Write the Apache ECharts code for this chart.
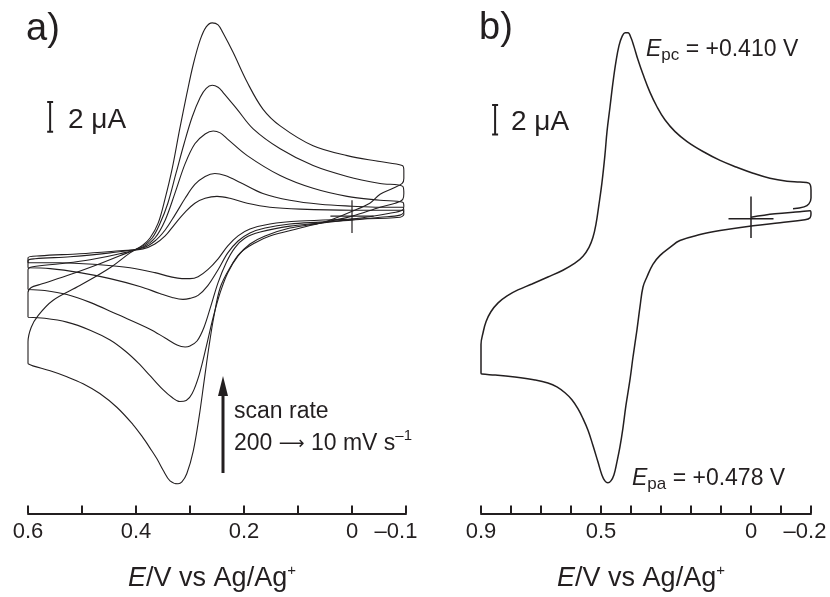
<!DOCTYPE html>
<html><head><meta charset="utf-8">
<script src="https://cdn.jsdelivr.net/npm/echarts/dist/echarts.min.js"></script>
<style>html,body{margin:0;padding:0;background:#fff}#c{width:830px;height:597px}</style>
</head><body><div id="c"></div>
<script>
// ---------- data (E in V vs Ag/Ag+, I in µA, cathodic up) ----------
const ticksA = [0.6, 0.4, 0.2, 0, -0.1];
const tickTextA = ['0.6', '0.4', '0.2', '0', '–0.1'];
const ticksB = [0.9, 0.5, 0, -0.2];
const tickTextB = ['0.9', '0.5', '0', '–0.2'];
const scanRates = [200, 100, 50, 20, 10];

const cv200 = [[0.6,-9.93],[0.6,-8.47],[0.594,-7.47],[0.581,-6.67],[0.554,-5.67],[0.504,-4.67],[0.448,-3.47],[0.411,-2.47],[0.387,-1.93],[0.374,-1.47],[0.359,-0.47],[0.346,1.2],[0.333,3.2],[0.319,5.87],[0.306,8.2],[0.294,10.2],[0.281,11.87],[0.27,12.73],[0.259,13.0],[0.248,12.87],[0.239,12.33],[0.22,11.0],[0.194,9.0],[0.165,7.2],[0.133,6.07],[0.072,4.73],[0.009,4.07],[-0.052,3.67],[-0.093,3.4],[-0.096,3.07],[-0.096,2.53],[-0.093,2.2],[-0.076,1.87],[-0.052,1.47],[-0.033,0.87],[0,0.33],[0.041,-0.27],[0.096,-0.8],[0.152,-1.33],[0.18,-1.8],[0.207,-2.47],[0.226,-3.47],[0.244,-4.8],[0.256,-6.8],[0.265,-8.8],[0.274,-11.13],[0.283,-13.47],[0.294,-15.8],[0.306,-17.33],[0.315,-17.87],[0.322,-18.0],[0.337,-17.8],[0.35,-17.07],[0.361,-16.33],[0.374,-15.6],[0.389,-14.8],[0.406,-14.0],[0.435,-12.87],[0.467,-11.93],[0.498,-11.27],[0.528,-10.8],[0.559,-10.4],[0.591,-10.07],[0.6,-9.93]];
const cv100 = [[0.6,-6.8],[0.6,-5.13],[0.594,-4.8],[0.578,-4.6],[0.522,-3.93],[0.467,-3.2],[0.43,-2.67],[0.387,-2.0],[0.37,-1.47],[0.356,-0.53],[0.341,0.87],[0.326,2.87],[0.311,4.87],[0.296,6.67],[0.281,8.0],[0.27,8.6],[0.259,8.8],[0.248,8.67],[0.239,8.33],[0.213,7.2],[0.183,5.87],[0.133,4.53],[0.072,3.4],[0.009,2.67],[-0.052,2.2],[-0.094,2.0],[-0.096,1.53],[-0.094,1.13],[-0.08,0.87],[-0.052,0.6],[0,0],[0.059,-0.47],[0.115,-0.8],[0.161,-1.33],[0.189,-1.87],[0.211,-2.67],[0.23,-3.8],[0.244,-5.13],[0.257,-6.8],[0.27,-8.8],[0.283,-10.67],[0.296,-11.93],[0.307,-12.4],[0.319,-12.47],[0.333,-12.2],[0.35,-11.67],[0.374,-10.73],[0.396,-9.87],[0.42,-9.07],[0.448,-8.33],[0.485,-7.67],[0.528,-7.13],[0.569,-6.87],[0.6,-6.8]];
const cv50 = [[0.6,-4.93],[0.6,-3.6],[0.591,-3.4],[0.541,-3.2],[0.485,-2.93],[0.43,-2.53],[0.387,-2.07],[0.365,-1.47],[0.346,-0.27],[0.328,1.53],[0.309,3.53],[0.291,4.87],[0.272,5.53],[0.257,5.73],[0.244,5.6],[0.231,5.2],[0.194,4.07],[0.133,2.73],[0.072,1.87],[0.009,1.33],[-0.052,1.07],[-0.094,0.93],[-0.096,0.67],[-0.093,0.4],[-0.07,0.2],[0,-0.2],[0.059,-0.47],[0.115,-0.67],[0.17,-1.07],[0.198,-1.47],[0.217,-2.13],[0.233,-3.13],[0.248,-4.47],[0.261,-6.0],[0.274,-7.47],[0.287,-8.4],[0.3,-8.73],[0.309,-8.8],[0.324,-8.67],[0.346,-8.2],[0.374,-7.6],[0.435,-6.6],[0.485,-5.8],[0.528,-5.27],[0.569,-5.0],[0.6,-4.93]];
const cv20 = [[0.6,-3.47],[0.6,-3.0],[0.587,-2.87],[0.522,-2.73],[0.448,-2.47],[0.387,-2.13],[0.365,-1.67],[0.346,-0.93],[0.328,0.07],[0.309,1.2],[0.291,2.13],[0.272,2.67],[0.254,2.87],[0.235,2.73],[0.207,2.27],[0.165,1.53],[0.115,1.07],[0.059,0.8],[0,0.67],[-0.052,0.6],[-0.094,0.6],[-0.096,0.33],[-0.089,0.07],[-0.052,-0.07],[0,-0.27],[0.059,-0.4],[0.115,-0.53],[0.161,-0.8],[0.189,-1.13],[0.211,-1.67],[0.23,-2.47],[0.248,-3.6],[0.267,-4.67],[0.285,-5.33],[0.3,-5.53],[0.313,-5.6],[0.333,-5.47],[0.356,-5.2],[0.393,-4.73],[0.448,-4.2],[0.504,-3.8],[0.559,-3.53],[0.6,-3.47]];
const cv10 = [[0.6,-3.13],[0.6,-2.8],[0.578,-2.67],[0.504,-2.53],[0.43,-2.33],[0.387,-2.2],[0.365,-1.87],[0.346,-1.33],[0.328,-0.53],[0.309,0.27],[0.291,0.87],[0.272,1.2],[0.25,1.33],[0.226,1.2],[0.194,0.87],[0.152,0.6],[0.096,0.47],[0,0.4],[-0.094,0.4],[-0.096,0.13],[-0.089,-0.07],[0,-0.2],[0.096,-0.33],[0.152,-0.53],[0.189,-0.87],[0.211,-1.33],[0.23,-2.0],[0.248,-2.87],[0.267,-3.6],[0.285,-4.07],[0.3,-4.2],[0.315,-4.2],[0.337,-4.07],[0.365,-3.8],[0.411,-3.47],[0.467,-3.27],[0.541,-3.13],[0.6,-3.13]];
const cvB = [[0,0.1],[-0.08,0.33],[-0.163,0.47],[-0.197,0.53],[-0.2,0.33],[-0.197,0.07],[-0.18,-0.07],[-0.097,-0.27],[-0.007,-0.47],[0.103,-0.8],[0.17,-1.07],[0.237,-1.47],[0.27,-1.93],[0.303,-2.47],[0.327,-3.07],[0.347,-3.93],[0.36,-4.6],[0.37,-5.93],[0.38,-7.47],[0.393,-9.27],[0.403,-10.8],[0.417,-12.6],[0.427,-14.13],[0.437,-15.4],[0.447,-16.4],[0.457,-17.27],[0.467,-17.67],[0.477,-17.8],[0.487,-17.67],[0.497,-17.27],[0.51,-16.4],[0.527,-15.27],[0.543,-14.27],[0.56,-13.47],[0.577,-12.8],[0.597,-12.2],[0.62,-11.73],[0.647,-11.33],[0.677,-11.07],[0.72,-10.87],[0.787,-10.67],[0.853,-10.53],[0.897,-10.47],[0.9,-10.4],[0.9,-9.4],[0.9,-8.47],[0.893,-7.67],[0.883,-6.93],[0.867,-6.27],[0.843,-5.67],[0.813,-5.2],[0.777,-4.8],[0.73,-4.4],[0.677,-3.93],[0.627,-3.47],[0.587,-3.0],[0.56,-2.53],[0.54,-1.93],[0.527,-1.27],[0.517,-0.4],[0.507,0.93],[0.497,2.4],[0.487,4.27],[0.48,5.87],[0.47,7.53],[0.46,9.2],[0.45,10.6],[0.44,11.67],[0.43,12.27],[0.42,12.53],[0.41,12.53],[0.4,12.2],[0.39,11.6],[0.377,10.73],[0.36,9.73],[0.337,8.53],[0.313,7.53],[0.287,6.67],[0.253,5.87],[0.213,5.2],[0.16,4.53],[0.103,3.93],[0.047,3.47],[-0.007,3.07],[-0.063,2.73],[-0.12,2.53],[-0.163,2.47],[-0.193,2.4],[-0.2,1.93],[-0.2,1.4],[-0.193,1.0],[-0.177,0.8],[-0.14,0.67]];

const originCrossA = [[0,1.07],[0,0],[0.04,0],[-0.04,0],[0,0],[0,-1.13]];
const originCrossB = [[0,1.5],[0,0],[0.075,0],[-0.075,0],[0,0],[0,-1.3]];
const scaleBarA = [[0.5645,7.67],[0.5535,7.67],[0.559,7.67],[0.559,5.67],[0.5535,5.67],[0.5645,5.67]];
const scaleBarB = [[0.863,7.67],[0.843,7.67],[0.853,7.67],[0.853,5.67],[0.843,5.67],[0.863,5.67]];

// ---------- chart ----------
const FONT = '"Liberation Sans", Arial, Helvetica, sans-serif';
const INK = '#231f20';
const chart = echarts.init(document.getElementById('c'), null, {renderer: 'canvas'});

function labelFmt(ticks, texts) {
  return function (v) {
    for (let i = 0; i < ticks.length; i++) {
      if (Math.abs(v - ticks[i]) < 1e-6) {
        return i === ticks.length - 1 ? '{neg|' + texts[i] + '}' : texts[i];
      }
    }
    return '';
  };
}
function xAxisCfg(grid, min, max, ticks, texts, negPad) {
  return {
    gridIndex: grid, type: 'value', min: min, max: max, interval: 0.1, inverse: true,
    axisLine: {show: true, onZero: false, lineStyle: {color: INK, width: 2}},
    axisTick: {show: true, inside: true, length: 8, lineStyle: {color: INK, width: 2}},
    splitLine: {show: false},
    axisLabel: {
      show: true, interval: 0, margin: 7, showMinLabel: true, showMaxLabel: true,
      color: INK, fontSize: 22, fontFamily: FONT,
      formatter: labelFmt(ticks, texts),
      rich: {neg: {fontSize: 22, fontFamily: FONT, color: INK, padding: [0, negPad, 0, 0]}}
    },
    name: '{i|E}{n|/V vs Ag/Ag}{s|+}',
    nameLocation: 'middle', nameGap: 50,
    nameTextStyle: {
      padding: [0, 10, 0, 0],
      rich: {
        i: {fontStyle: 'italic', fontSize: 27, fontFamily: FONT, color: INK, lineHeight: 30},
        n: {fontSize: 27, fontFamily: FONT, color: INK, lineHeight: 30},
        s: {fontSize: 15, fontFamily: FONT, color: INK, lineHeight: 12, verticalAlign: 'top'}
      }
    }
  };
}
function lineSeries(x, y, data, width, smooth) {
  return {
    type: 'line', xAxisIndex: x, yAxisIndex: y, data: data, showSymbol: false, symbol: 'none',
    smooth: smooth, clip: false, silent: true,
    lineStyle: {color: INK, width: width}
  };
}

const leftCVs = [cv200, cv100, cv50, cv20, cv10];
const series = leftCVs.map(function (d) { return lineSeries(0, 0, d, 1.1, 0.35); });
series.push(lineSeries(0, 0, originCrossA, 1.2, false));
series.push(lineSeries(0, 0, scaleBarA, 2, false));
series.push(lineSeries(1, 1, cvB, 1.5, 0.4));
series.push(lineSeries(1, 1, originCrossB, 1.5, false));
series.push(lineSeries(1, 1, scaleBarB, 2, false));

function txt(x, y, text, rich) {
  return {
    type: 'text', x: x, y: y, silent: true,
    style: {text: text, rich: rich, textVerticalAlign: 'middle', textAlign: 'left', fill: INK, font: '22px ' + FONT}
  };
}

const graphic = [
  {type: 'text', x: 26, y: 30, silent: true, style: {text: 'a)', fill: INK, font: '38px ' + FONT, textVerticalAlign: 'middle'}},
  {type: 'text', x: 479, y: 29, silent: true, style: {text: 'b)', fill: INK, font: '38px ' + FONT, textVerticalAlign: 'middle'}},
  {type: 'text', x: 68, y: 120, silent: true, style: {text: '2 μA', fill: INK, font: '28px ' + FONT, textVerticalAlign: 'middle'}},
  {type: 'text', x: 511, y: 122, silent: true, style: {text: '2 μA', fill: INK, font: '28px ' + FONT, textVerticalAlign: 'middle'}},
  txt(646, 50, '{i|E}{sub|pc}{n| = +0.410 V}', {
    i: {fontStyle: 'italic', fontSize: 23, fontFamily: FONT, fill: INK, lineHeight: 28},
    sub: {fontSize: 17, fontFamily: FONT, fill: INK, lineHeight: 14, verticalAlign: 'bottom'},
    n: {fontSize: 23, fontFamily: FONT, fill: INK, lineHeight: 28}
  }),
  txt(632, 479, '{i|E}{sub|pa}{n| = +0.478 V}', {
    i: {fontStyle: 'italic', fontSize: 23, fontFamily: FONT, fill: INK, lineHeight: 28},
    sub: {fontSize: 17, fontFamily: FONT, fill: INK, lineHeight: 14, verticalAlign: 'bottom'},
    n: {fontSize: 23, fontFamily: FONT, fill: INK, lineHeight: 28}
  }),
  {type: 'text', x: 234, y: 412, silent: true, style: {text: 'scan rate', fill: INK, font: '23px ' + FONT, textVerticalAlign: 'middle'}},
  txt(234, 444, '{n|' + scanRates[0] + ' }{a|⟶}{n| ' + scanRates[scanRates.length - 1] + ' mV s}{s|–1}', {
    n: {fontSize: 23, fontFamily: FONT, fill: INK, lineHeight: 32},
    a: {fontSize: 18, fontFamily: '"DejaVu Sans", sans-serif', fill: INK, lineHeight: 32},
    s: {fontSize: 15, fontFamily: FONT, fill: INK, lineHeight: 10, verticalAlign: 'top'}
  }),
  {type: 'line', silent: true, shape: {x1: 223, y1: 473, x2: 223, y2: 392}, style: {stroke: INK, lineWidth: 3}},
  {type: 'polygon', silent: true, shape: {points: [[223, 376], [218, 396], [228, 396]]}, style: {fill: INK}}
];

chart.setOption({
  animation: false,
  backgroundColor: '#ffffff',
  grid: [
    {left: 28, right: 424, top: 8, bottom: 79, containLabel: false},
    {left: 481, right: 19, top: 11, bottom: 78, containLabel: false}
  ],
  xAxis: [
    xAxisCfg(0, -0.1, 0.6, ticksA, tickTextA, 20),
    xAxisCfg(1, -0.2, 0.9, ticksB, tickTextB, 12)
  ],
  yAxis: [
    {gridIndex: 0, type: 'value', min: -20, max: 14, show: false},
    {gridIndex: 1, type: 'value', min: -298 / 15, max: 14, show: false}
  ],
  series: series,
  graphic: graphic
});
</script>
</body></html>
